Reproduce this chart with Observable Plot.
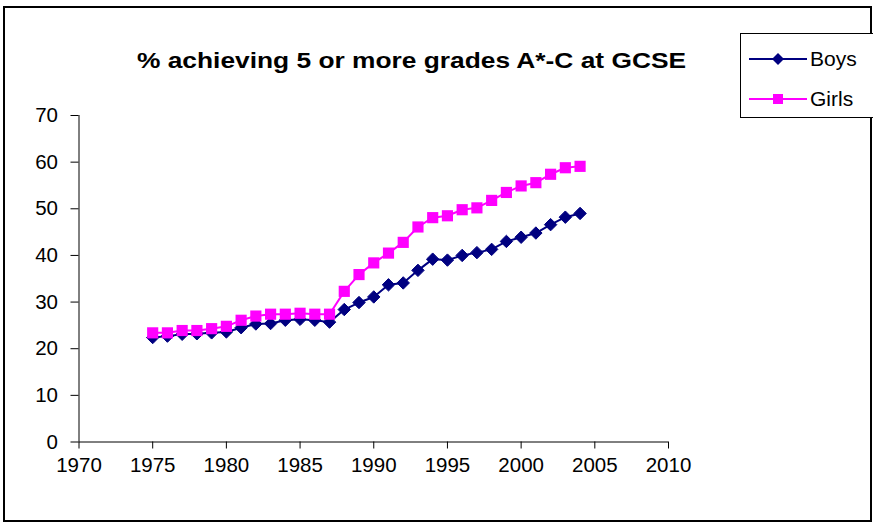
<!DOCTYPE html>
<html>
<head>
<meta charset="utf-8">
<script src="https://cdn.jsdelivr.net/npm/d3@7"></script>
<script src="https://cdn.jsdelivr.net/npm/@observablehq/plot@0.6"></script>
<style>
  html, body { margin: 0; padding: 0; background: #fff; }
  body { width: 873px; height: 523px; position: relative; overflow: hidden; font-family: "Liberation Sans", Arial, sans-serif; }
  #frame { position: absolute; left: 3px; top: 6px; width: 865px; height: 512px; border: 2px solid #000; box-sizing: content-box; }
  #chart { position: absolute; left: 0; top: 0; }
  #title { position: absolute; left: 0; top: 0; }
  #legend { position: absolute; left: 740px; top: 33px; width: 140px; height: 83px; border: 1px solid #000; background: #fff; }
  .lg { position: absolute; left: 8px; height: 24px; display: flex; align-items: center; font-size: 21px; color: #000; }
  .lg svg { margin-right: 3px; }
</style>
</head>
<body>
<div id="frame"></div>
<div id="chart"></div>
<svg id="title" width="873" height="90"><text x="411.5" y="68" text-anchor="middle" font-family="Liberation Sans, Arial, sans-serif" font-weight="bold" font-size="22" textLength="549" lengthAdjust="spacingAndGlyphs">% achieving 5 or more grades A*-C at GCSE</text></svg>
<div id="legend">
  <div class="lg" style="top:13px"><svg width="58" height="14"><line x1="0" y1="7" x2="58" y2="7" stroke="#000080" stroke-width="2"/><path d="M29,1L35,7L29,13L23,7Z" fill="#000080"/></svg>Boys</div>
  <div class="lg" style="top:53px"><svg width="58" height="14"><line x1="0" y1="7" x2="58" y2="7" stroke="#ff00ff" stroke-width="2"/><rect x="24" y="2" width="10" height="10" fill="#ff00ff"/></svg>Girls</div>
</div>
<script>
const years = [1975,1976,1977,1978,1979,1980,1981,1982,1983,1984,1985,1986,1987,1988,1989,1990,1991,1992,1993,1994,1995,1996,1997,1998,1999,2000,2001,2002,2003,2004];
const boys  = [22.4,22.7,23.1,23.2,23.4,23.6,24.5,25.3,25.4,26.1,26.3,26.1,25.7,28.4,29.9,31.1,33.7,34.1,36.8,39.2,39.0,40.0,40.6,41.3,43.0,43.9,44.8,46.6,48.2,49.0];
const girls = [23.4,23.4,23.9,23.9,24.3,24.8,26.1,27.0,27.4,27.4,27.6,27.4,27.4,32.3,35.9,38.4,40.5,42.8,46.1,48.1,48.5,49.8,50.2,51.8,53.5,54.9,55.6,57.4,58.8,59.1];
const xTicks = [1970,1975,1980,1985,1990,1995,2000,2005,2010];
const yTicks = [0,10,20,30,40,50,60,70];

const boysData = years.map((y, i) => ({year: y, value: boys[i]}));
const girlsData = years.map((y, i) => ({year: y, value: girls[i]}));

const chart = Plot.plot({
  width: 873,
  height: 523,
  marginLeft: 78.5,
  marginRight: 205,
  marginTop: 115,
  marginBottom: 81.5,
  style: {fontFamily: '"Liberation Sans", Arial, sans-serif', fontSize: "20.5px", color: "#000", background: "transparent"},
  x: {domain: [1970, 2010], label: null},
  y: {domain: [0, 70], label: null},
  marks: [
    Plot.axisX({ticks: xTicks, tickFormat: d => String(d), tickSize: 7, tickPadding: 8, fontSize: 20.5, label: null}),
    Plot.axisY({ticks: yTicks, tickSize: 8, tickPadding: 13, fontSize: 20.5, label: null}),
    Plot.ruleX([1970], {stroke: "#000", strokeWidth: 1}),
    Plot.ruleY([0], {stroke: "#000", strokeWidth: 1}),
    Plot.line(boysData, {x: "year", y: "value", stroke: "#000080", strokeWidth: 2}),
    Plot.dot(boysData, {x: "year", y: "value", symbol: "diamond2", r: 5.6, fill: "#000080", stroke: "#000080", strokeWidth: 1}),
    Plot.line(girlsData, {x: "year", y: "value", stroke: "#ff00ff", strokeWidth: 2}),
    Plot.dot(girlsData, {x: "year", y: "value", symbol: "square", r: 6.3, fill: "#ff00ff", stroke: "none"})
  ]
});
document.getElementById("chart").appendChild(chart);
</script>
</body>
</html>
